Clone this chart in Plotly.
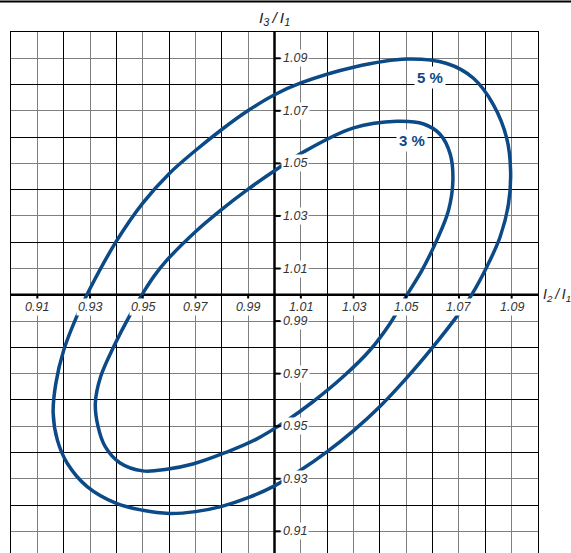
import plotly.graph_objects as go

# Tolerance curves (I2/I1, I3/I1), clockwise from the top
curve_5_x = [1.0503, 1.0654, 1.0755, 1.0831, 1.0881, 1.0896, 1.0888, 1.0856, 1.0806,
             1.0748, 1.0690, 1.0600, 1.0500, 1.0400, 1.0300, 1.0200, 1.0100, 1.0000,
             0.9900, 0.9800, 0.9700, 0.9600, 0.9500, 0.9400, 0.9289, 0.9214, 0.9176,
             0.9160, 0.9170, 0.9200, 0.9250, 0.9300, 0.9400, 0.9500, 0.9600, 0.9700,
             0.9800, 0.9900, 1.0000, 1.0100, 1.0300, 1.0503]
curve_5_y = [1.0897, 1.0880, 1.0824, 1.0723, 1.0597, 1.0472, 1.0346, 1.0220, 1.0107,
             1.0000, 0.9915, 0.9800, 0.9682, 0.9575, 0.9483, 0.9403, 0.9333, 0.9273,
             0.9228, 0.9195, 0.9175, 0.9168, 0.9180, 0.9206, 0.9270, 0.9358, 0.9447,
             0.9550, 0.9662, 0.9789, 0.9919, 1.0024, 1.0204, 1.0349, 1.0461, 1.0549,
             1.0629, 1.0701, 1.0761, 1.0806, 1.0866, 1.0897]

curve_3_x = [1.0465, 1.0566, 1.0629, 1.0667, 1.0677, 1.0660, 1.0616, 1.0560, 1.0503,
             1.0438, 1.0362, 1.0260, 1.0147, 1.0052, 0.9930, 0.9815, 0.9690, 0.9591,
             0.9500, 0.9414, 0.9357, 0.9330, 0.9320, 0.9340, 0.9390, 0.9450, 0.9506,
             0.9545, 0.9590, 0.9700, 0.9800, 0.9900, 1.0000, 1.0111, 1.0300, 1.0465]
curve_3_y = [1.0660, 1.0650, 1.0610, 1.0535, 1.0434, 1.0320, 1.0208, 1.0094, 1.0000,
             0.9890, 0.9789, 0.9688, 0.9594, 0.9525, 0.9450, 0.9400, 0.9356, 0.9336,
             0.9330, 0.9360, 0.9423, 0.9500, 0.9587, 0.9688, 0.9803, 0.9920, 1.0015,
             1.0074, 1.0130, 1.0240, 1.0325, 1.0402, 1.0472, 1.0544, 1.0635, 1.0660]

curve_labels = ["5 %", "3 %"]
curve_label_x = [1.059, 1.052]
curve_label_y = [1.0826, 1.0588]

tick_vals = [0.91, 0.93, 0.95, 0.97, 0.99, 1.01, 1.03, 1.05, 1.07, 1.09]
tick_text = ["0.91", "0.93", "0.95", "0.97", "0.99", "1.01", "1.03", "1.05", "1.07", "1.09"]

BLUE = "#0b4a87"
LABEL_FONT = dict(family="Liberation Sans Narrow, Liberation Sans, Arial", size=12.5, color="#333333")

fig = go.Figure()

for cx, cy in [(curve_5_x, curve_5_y), (curve_3_x, curve_3_y)]:
    fig.add_trace(go.Scatter(
        x=cx, y=cy, mode="lines",
        line=dict(color=BLUE, width=3.5, shape="spline", smoothing=1.0),
        hoverinfo="skip", showlegend=False,
    ))

# short tick marks on the central axes
tx, ty = [], []
for v in tick_vals:
    tx += [v, v, None]
    ty += [1.0, 0.9981, None]
    tx += [1.0, 1.0023, None]
    ty += [v, v, None]
fig.add_trace(go.Scatter(x=tx, y=ty, mode="lines", line=dict(color="black", width=2),
                         hoverinfo="skip", showlegend=False))

# central axes through (1, 1)
fig.add_shape(type="line", x0=0.90, x1=1.10, y0=1.0, y1=1.0, xref="x", yref="y",
              line=dict(color="black", width=2.5), layer="between")
fig.add_shape(type="line", x0=1.0, x1=1.0, y0=0.90, y1=1.10, xref="x", yref="y",
              line=dict(color="black", width=2.5), layer="between")

# rule at the top of the page
fig.add_shape(type="line", xref="paper", yref="paper", x0=-0.03, x1=1.07,
              y0=1 + 30.5 / 521, y1=1 + 30.5 / 521, line=dict(color="black", width=2))

for v, t in zip(tick_vals, tick_text):
    fig.add_annotation(x=v, y=1.0, text="<i>" + t + "</i>", showarrow=False,
                       yanchor="middle", yshift=-12, font=LABEL_FONT,
                       bgcolor="white", borderpad=1)
    fig.add_annotation(x=1.0, y=v, text="<i>" + t + "</i>", showarrow=False,
                       xanchor="left", xshift=6, font=LABEL_FONT,
                       bgcolor="white", borderpad=1)

for t, lx, ly in zip(curve_labels, curve_label_x, curve_label_y):
    fig.add_annotation(x=lx, y=ly, text="<b>" + t + "</b>", showarrow=False,
                       font=dict(family="Liberation Sans, Arial", size=15, color=BLUE),
                       bgcolor="white", borderpad=2)

fig.add_annotation(x=1.0, y=1.10, yanchor="bottom", yshift=2, showarrow=False,
                   text="<i>I<sub>3</sub>\u2009/\u2009I<sub>1</sub></i>",
                   font=dict(family="Liberation Sans, Arial", size=15.5, color="#222222"))
fig.add_annotation(x=1.10, y=1.0, xanchor="left", xshift=3, showarrow=False,
                   text="<i>I<sub>2</sub>\u2009/\u2009I<sub>1</sub></i>",
                   font=dict(family="Liberation Sans, Arial", size=14, color="#222222"))

axis_common = dict(
    showline=True, mirror=True, linecolor="black", linewidth=1,
    dtick=0.02, tick0=0.9, showgrid=True, gridcolor="black", gridwidth=1,
    minor=dict(dtick=0.01, tick0=0.9, showgrid=True, gridcolor="#808080", gridwidth=1),
    showticklabels=False, ticks="", zeroline=False, fixedrange=True,
)
fig.update_layout(
    width=571, height=553,
    margin=dict(l=11, r=33, t=32, b=0),
    paper_bgcolor="white", plot_bgcolor="white",
    xaxis=dict(range=[0.90, 1.10], **axis_common),
    yaxis=dict(range=[0.90175, 1.10], **axis_common),
    showlegend=False,
)

fig.write_html("out.html", config={"displayModeBar": False},
               post_script="document.body.style.margin='0px';")
